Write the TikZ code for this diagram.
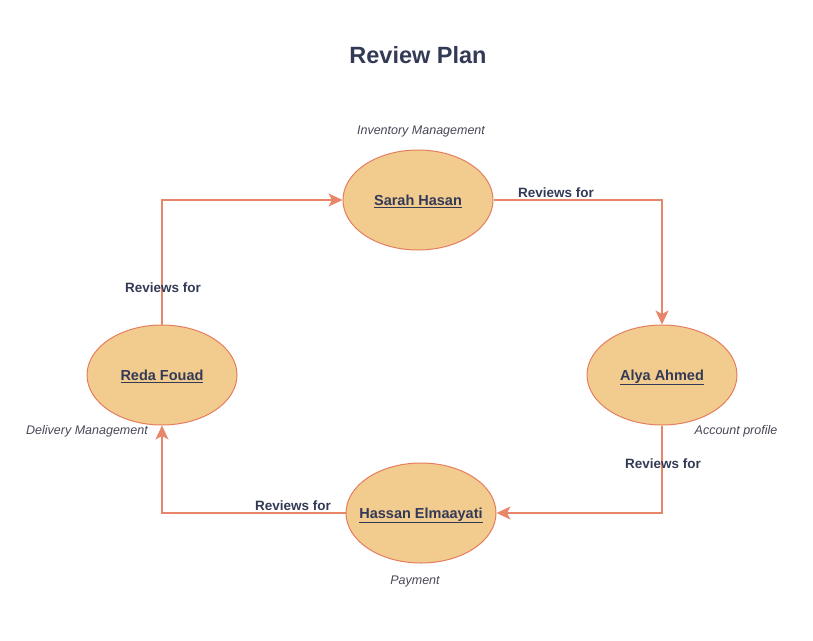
\documentclass[tikz,border=0pt]{standalone}
\usepackage{fontspec}
\setmainfont{Liberation Sans}
\usetikzlibrary{arrows.meta,shapes.geometric}
\definecolor{fillc}{HTML}{F2CB8F}
\definecolor{edgec}{HTML}{E47E5E}
\definecolor{linec}{HTML}{E8866A}
\definecolor{txtc}{HTML}{333A56}
\definecolor{subc}{HTML}{474756}
\newcommand{\pname}[1]{\raisebox{-0.36em}[0pt][0pt]{\makebox[0pt]{\underline{#1}}}}
\tikzset{
  person/.style={ellipse, draw=edgec, fill=fillc, line width=1pt, minimum width=150pt, minimum height=100pt, inner sep=0pt, text=txtc, font=\fontsize{14.5}{16}\selectfont\bfseries},
  conn/.style={draw=linec, line width=1.1pt, -{Stealth[length=14pt,width=13pt,inset=3.5pt]}},
  rel/.style={text=txtc, font=\fontsize{13.5}{15}\selectfont\bfseries},
  role/.style={text=subc, font=\fontsize{12.5}{14}\selectfont\itshape},
  ttl/.style={text=txtc, font=\fontsize{23.5}{26}\selectfont\bfseries}
}
\begin{document}
\begin{tikzpicture}[x=1pt,y=-1pt]
\useasboundingbox (0,0) rectangle (813,640);
\node[ttl] (title) at (418,55) {Review Plan};
\node[person] (sarah) at (418,200) {\pname{Sarah Hasan}};
\node[person] (alya) at (662,375) {\pname{Alya Ahmed}};
\node[person] (reda) at (162,375) {\pname{Reda Fouad}};
\node[person] (hassan) at (421,513) {\pname{Hassan Elmaayati}};
\node[role] (r1) at (421,131) {Inventory Management};
\node[role] (r2) at (736,431) {Account profile};
\node[role] (r3) at (415,581) {Payment};
\node[role] (r4) at (87,431) {Delivery Management};
\draw[conn] (sarah.east) -| (alya.north);
\draw[conn] (alya.south) |- (hassan.east);
\draw[conn] (hassan.west) -| (reda.south);
\draw[conn] (reda.north) |- (sarah.west);
\node[rel] (l1) at (556,193) {Reviews for};
\node[rel] (l2) at (663,464) {Reviews for};
\node[rel] (l3) at (293,506) {Reviews for};
\node[rel] (l4) at (163,288) {Reviews for};
\end{tikzpicture}
\end{document}
